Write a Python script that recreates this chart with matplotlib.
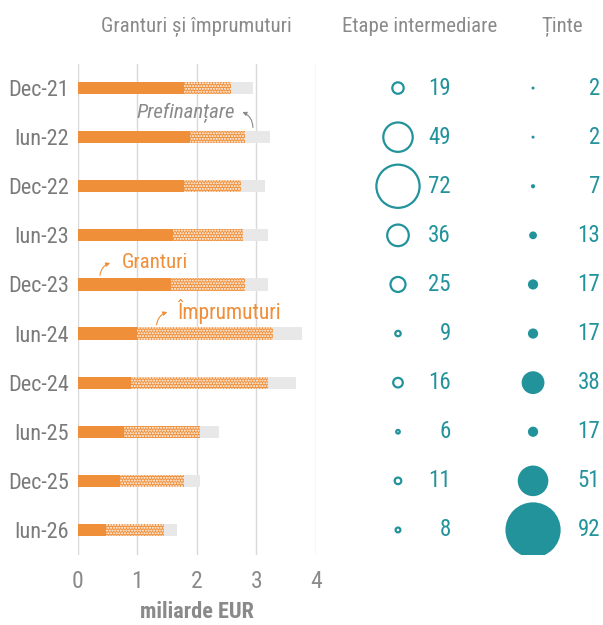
import numpy as np
import matplotlib
matplotlib.use("Agg")
import matplotlib.pyplot as plt
from matplotlib import font_manager

# date (miliarde EUR)
perioade = ['Dec-21', 'Iun-22', 'Dec-22', 'Iun-23', 'Dec-23',
            'Iun-24', 'Dec-24', 'Iun-25', 'Dec-25', 'Iun-26']
granturi = [1.78, 1.88, 1.79, 1.60, 1.56, 0.99, 0.90, 0.78, 0.71, 0.47]
imprumuturi = [0.79, 0.93, 0.95, 1.17, 1.24, 2.29, 2.29, 1.27, 1.07, 0.98]
prefinantare = [0.37, 0.42, 0.40, 0.42, 0.40, 0.48, 0.47, 0.32, 0.27, 0.21]
etape = [19, 49, 72, 36, 25, 9, 16, 6, 11, 8]
tinte = [2, 2, 7, 13, 17, 17, 38, 17, 51, 92]
x_ticks = [0, 1, 2, 3, 4]

ORANGE = '#ef8f3a'
TEAL = '#22939b'
GRI = '#8a8a8a'
GRI_BARA = '#e8e8e8'


def pick_font():
    for fam in ['Liberation Sans Narrow', 'Roboto Condensed', 'Open Sans Condensed']:
        try:
            font_manager.findfont(font_manager.FontProperties(family=fam),
                                  fallback_to_default=False)
            return fam
        except ValueError:
            pass
    return 'Liberation Sans'


FONT = pick_font()
plt.rcParams['font.family'] = [FONT, 'DejaVu Sans']
plt.rcParams['hatch.color'] = 'white'
plt.rcParams['hatch.linewidth'] = 1.0

fig = plt.figure(figsize=(6.03, 6.25), dpi=100)
W, H = 603, 625
ax = fig.add_axes([77.7 / W, 1 - 554.5 / H, (316 - 77.7) / W, 491 / H])
ax2 = fig.add_axes([340 / W, 1 - 554.5 / H, 263 / W, 491 / H])

y = np.arange(len(perioade))
g = np.array(granturi)
im = np.array(imprumuturi)
pf = np.array(prefinantare)
h = 0.25

ax.barh(y, g, height=h, color=ORANGE, zorder=3)
ax.barh(y, im, left=g, height=h, color=ORANGE, hatch='......', edgecolor='white',
        linewidth=0, zorder=3)
ax.barh(y, pf, left=g + im, height=h, color=GRI_BARA, zorder=3)

ax.set_xlim(0, 4)
ax.set_ylim(9.5, -0.5)
ax.set_xticks(x_ticks)
ax.set_xticklabels([str(t) for t in x_ticks], fontsize=17, color=GRI)
ax.set_yticks(y)
ax.set_yticklabels(perioade, fontsize=16, color='#7a7a7a')
ax.tick_params(axis='both', length=0)
ax.tick_params(axis='x', pad=11)
ax.tick_params(axis='y', pad=6)
ax.grid(axis='x', color='#d9d9d9', linewidth=1, zorder=0)
for s in ax.spines.values():
    s.set_visible(False)

# adnotari
ax.text(2.64, 0.5, 'Prefinanțare', fontsize=15, color=GRI, style='italic',
        ha='right', va='center')
ax.annotate('', xy=(2.72, 0.47), xytext=(2.94, 0.86),
            arrowprops=dict(arrowstyle='-|>', color=GRI, lw=0.8,
                            mutation_scale=6, connectionstyle='arc3,rad=0.4'))
ax.text(0.74, 3.56, 'Granturi', fontsize=15, color=ORANGE, ha='left', va='center')
ax.annotate('', xy=(0.59, 3.55), xytext=(0.37, 3.87),
            arrowprops=dict(arrowstyle='-|>', color=ORANGE, lw=0.8,
                            mutation_scale=6, connectionstyle='arc3,rad=-0.4'))
ax.text(1.66, 4.56, 'Împrumuturi', fontsize=15.5, color=ORANGE, ha='left', va='center')
ax.annotate('', xy=(1.55, 4.55), xytext=(1.32, 4.88),
            arrowprops=dict(arrowstyle='-|>', color=ORANGE, lw=0.8,
                            mutation_scale=6, connectionstyle='arc3,rad=-0.4'))

# bule
def marime(vals):
    d_px = np.maximum(0.6 * np.array(vals, dtype=float), 3.0)
    return (d_px * 0.72) ** 2

x_et, x_et_num = 0.2205, 0.422
x_ti, x_ti_num = 0.734, 0.989
ax2.scatter(np.full(len(etape), x_et), y, s=marime(etape), facecolors='none',
            edgecolors=TEAL, linewidths=1.6)
ax2.scatter(np.full(len(tinte), x_ti), y, s=marime(tinte), color=TEAL, linewidths=0)
for i in range(len(perioade)):
    ax2.text(x_et_num, y[i], str(etape[i]), fontsize=16.5, color=TEAL, ha='right', va='center')
    ax2.text(x_ti_num, y[i], str(tinte[i]), fontsize=16.5, color=TEAL, ha='right', va='center')
ax2.set_xlim(0, 1)
ax2.set_ylim(9.5, -0.5)
ax2.axis('off')

# titluri coloane si eticheta axei
fig.text(196.5 / W, 1 - 27 / H, 'Granturi și împrumuturi', fontsize=15, color=GRI,
         ha='center', va='center')
fig.text(420 / W, 1 - 27 / H, 'Etape intermediare', fontsize=15, color=GRI,
         ha='center', va='center')
fig.text(562 / W, 1 - 27 / H, 'Ținte', fontsize=15, color=GRI, ha='center', va='center')
fig.text(197 / W, 1 - 612 / H, 'miliarde EUR', fontsize=16, color=GRI,
         fontweight='bold', ha='center', va='center')

fig.savefig('out.png', dpi=100)
